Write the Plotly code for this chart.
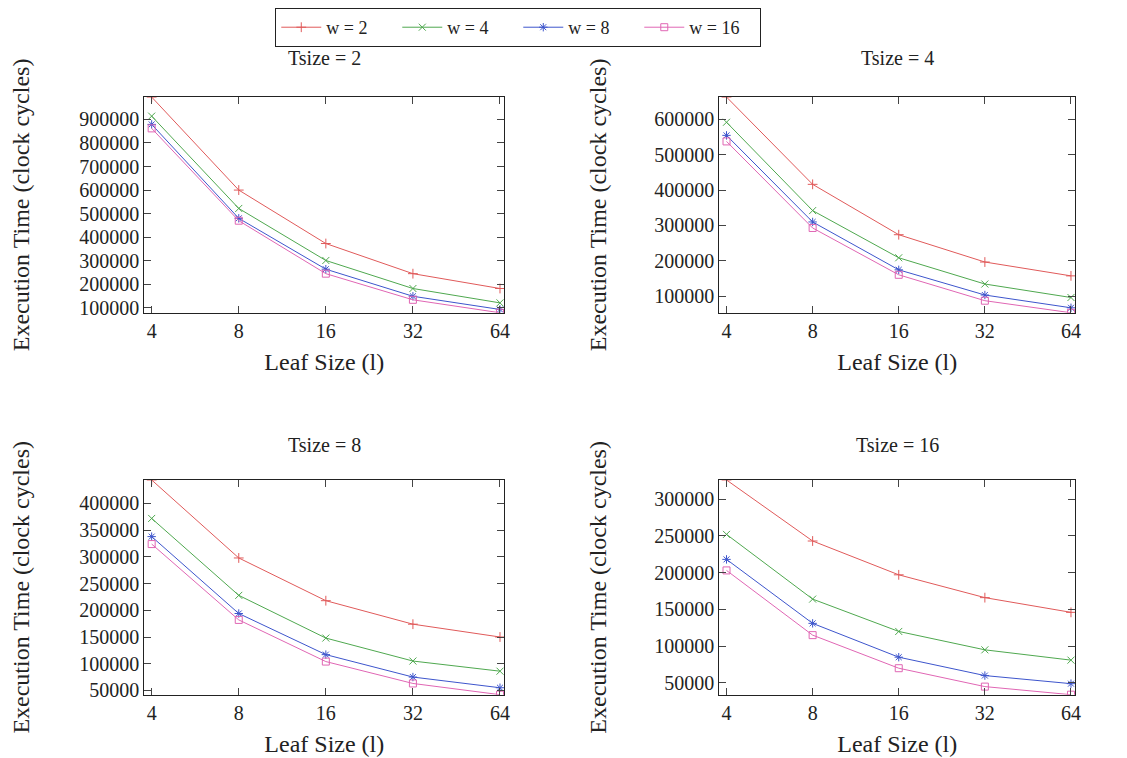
import plotly.graph_objects as go
import math

leaf_sizes = [4, 8, 16, 32, 64]
x_tick_labels = ["4", "8", "16", "32", "64"]
w_labels = ["w = 2", "w = 4", "w = 8", "w = 16"]
panel_titles = ["Tsize = 2", "Tsize = 4", "Tsize = 8", "Tsize = 16"]

# Tsize = 2
t2_w2 = [995000, 600000, 373000, 245000, 182000]
t2_w4 = [914000, 522000, 301000, 182000, 121000]
t2_w8 = [879000, 480000, 264000, 149000, 93000]
t2_w16 = [862000, 470000, 245000, 134000, 79000]
# Tsize = 4
t4_w2 = [662000, 416000, 274000, 197000, 158000]
t4_w4 = [591000, 342000, 209000, 135000, 97000]
t4_w8 = [554000, 310000, 175000, 104000, 68000]
t4_w16 = [537000, 293000, 161000, 88000, 54000]
# Tsize = 8
t8_w2 = [444000, 298000, 218000, 174000, 150000]
t8_w4 = [372000, 228000, 148000, 105000, 86000]
t8_w8 = [338000, 194000, 117000, 75000, 55000]
t8_w16 = [324000, 182000, 104000, 63000, 42000]
# Tsize = 16
t16_w2 = [326000, 243000, 197000, 166000, 146000]
t16_w4 = [252000, 164000, 120000, 95000, 81000]
t16_w8 = [218000, 131000, 85000, 60000, 49000]
t16_w16 = [203000, 115000, 70000, 45000, 34000]

panels = [
    [t2_w2, t2_w4, t2_w8, t2_w16],
    [t4_w2, t4_w4, t4_w8, t4_w16],
    [t8_w2, t8_w4, t8_w8, t8_w16],
    [t16_w2, t16_w4, t16_w8, t16_w16],
]
y_ticks = [
    [100000, 200000, 300000, 400000, 500000, 600000, 700000, 800000, 900000],
    [100000, 200000, 300000, 400000, 500000, 600000],
    [50000, 100000, 150000, 200000, 250000, 300000, 350000, 400000],
    [50000, 100000, 150000, 200000, 250000, 300000],
]

colors = ["#e05a5a", "#4fa84f", "#3d55cc", "#e066b4"]
symbols = ["cross-thin", "x-thin", "asterisk", "square-open"]

W, H = 1127, 758
# pixel boxes (left, right, top, bottom, title y, y-title standoff)
boxes = [
    (137, 499, 89, 307, 50, 46),
    (715, 1073, 89, 307, 50, 40),
    (137, 499, 476, 693, 441, 46),
    (715, 1073, 476, 693, 441, 40),
]

FONT = '"Liberation Serif", "Times New Roman", Times, serif'
fig = go.Figure()
for p, series in enumerate(panels):
    ax = "" if p == 0 else str(p + 1)
    for s, vals in enumerate(series):
        fig.add_trace(go.Scatter(
            x=leaf_sizes, y=vals, mode="lines+markers",
            name=w_labels[s], showlegend=(p == 0),
            xaxis="x" + ax, yaxis="y" + ax,
            line=dict(color=colors[s], width=1),
            marker=dict(symbol=symbols[s], size=7, color=colors[s],
                        line=dict(color=colors[s], width=1)),
        ))

layout = dict(
    width=W, height=H, margin=dict(l=0, r=0, t=0, b=0),
    paper_bgcolor="white", plot_bgcolor="white",
    font=dict(family=FONT, size=20, color="#222"),
    legend=dict(orientation="h", x=513 / W, xanchor="center", y=1 + 1 / H, yanchor="top",
                bordercolor="#222", borderwidth=1, bgcolor="white",
                font=dict(family=FONT, size=18), itemwidth=40, entrywidth=66,
                tracegroupgap=0),
    annotations=[],
)
for p, (l, r, t, b, ty, so) in enumerate(boxes):
    ax = "" if p == 0 else str(p + 1)
    allv = [v for sr in panels[p] for v in sr]
    layout["xaxis" + ax] = dict(
        domain=[l / W, r / W], anchor="y" + ax, type="log",
        range=[math.log10(2 ** 1.915), math.log10(2 ** 6.05)],
        tickvals=leaf_sizes, ticktext=x_tick_labels,
        ticks="inside", ticklen=7, mirror="allticks", showline=True,
        linecolor="#222", linewidth=1, showgrid=False, zeroline=False,
        title=dict(text="Leaf Size (l)", standoff=12),
    )
    layout["yaxis" + ax] = dict(
        domain=[1 - b / H, 1 - t / H], anchor="x" + ax,
        range=[min(allv), max(allv)], tickformat="d",
        tickvals=y_ticks[p], ticks="inside", ticklen=7, mirror="allticks",
        showline=True, linecolor="#222", linewidth=1, showgrid=False, zeroline=False,
        title=dict(text="Execution Time (clock cycles)", standoff=so),
    )
    layout["annotations"].append(dict(
        text=panel_titles[p], x=(l + r) / 2 / W, y=1 - ty / H,
        xref="paper", yref="paper", showarrow=False, xanchor="center", yanchor="middle",
        font=dict(family=FONT, size=20, color="#222"),
    ))

fig.update_layout(**layout)
fig.write_html("out.html")
